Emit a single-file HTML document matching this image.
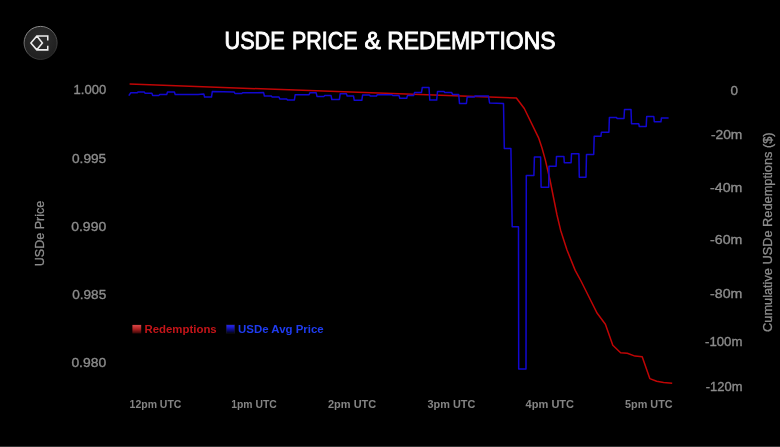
<!DOCTYPE html>
<html>
<head>
<meta charset="utf-8">
<style>
html,body{margin:0;padding:0;background:#000;}
body{width:780px;height:447px;overflow:hidden;position:relative;}
svg{display:block;position:absolute;left:0;top:0;}
text{font-family:"Liberation Sans",Arial,sans-serif;}
</style>
</head>
<body>
<svg width="780" height="447" viewBox="0 0 780 447">
<defs>
<linearGradient id="lr" x1="0" y1="0" x2="0" y2="1">
<stop offset="0" stop-color="#dc4848"/><stop offset="0.5" stop-color="#aa2020"/><stop offset="1" stop-color="#360606"/>
</linearGradient>
<linearGradient id="lb" x1="0" y1="0" x2="0" y2="1">
<stop offset="0" stop-color="#2828ff"/><stop offset="0.5" stop-color="#1010a0"/><stop offset="1" stop-color="#02021a"/>
</linearGradient>
<linearGradient id="rim" x1="0.2" y1="0" x2="0.8" y2="1">
<stop offset="0" stop-color="#9a9a9a"/><stop offset="0.45" stop-color="#5a5a5a"/><stop offset="1" stop-color="#262626"/>
</linearGradient>
<radialGradient id="disc" cx="0.5" cy="0.4" r="0.6">
<stop offset="0" stop-color="#2e2e2e"/><stop offset="1" stop-color="#1f1f1f"/>
</radialGradient>
</defs>
<rect x="0" y="0" width="780" height="447" fill="#000"/>
<rect x="0" y="446" width="780" height="1" fill="#333"/>

<!-- logo -->
<circle cx="40.6" cy="42.9" r="16.5" fill="url(#disc)" stroke="url(#rim)" stroke-width="1"/>
<path d="M47.75 40.5 V35.95 H36.8 L30.9 42.9 L36.8 49.85 H47.75 V45.8 M36.8 35.95 L42.4 42.9 L36.8 49.85" fill="none" stroke="#ededed" stroke-width="1.55" stroke-linejoin="miter"/>

<!-- title -->
<g font-size="23.8" fill="#fff" stroke="#fff" stroke-width="0.85">
<text x="224.5" y="48.6" textLength="60.2" lengthAdjust="spacingAndGlyphs">USDE</text>
<text x="292.1" y="48.6" textLength="65.4" lengthAdjust="spacingAndGlyphs">PRICE</text>
<text x="364.4" y="48.6" textLength="16.4" lengthAdjust="spacingAndGlyphs">&amp;</text>
<text x="387.2" y="48.6" textLength="168.4" lengthAdjust="spacingAndGlyphs">REDEMPTIONS</text>
</g>

<!-- left axis -->
<g font-size="13.4" fill="#8c8c8c" stroke="#8c8c8c" stroke-width="0.35" text-anchor="end">
<text x="106.2" y="94.4" textLength="32.6" lengthAdjust="spacingAndGlyphs">1.000</text>
<text x="106.2" y="163.1" textLength="34.2" lengthAdjust="spacingAndGlyphs">0.995</text>
<text x="106.2" y="231.3" textLength="35" lengthAdjust="spacingAndGlyphs">0.990</text>
<text x="106.2" y="299.3" textLength="34" lengthAdjust="spacingAndGlyphs">0.985</text>
<text x="106.2" y="367.3" textLength="34.8" lengthAdjust="spacingAndGlyphs">0.980</text>
</g>
<text transform="translate(43.6,233.5) rotate(-90)" font-size="13.6" fill="#8c8c8c" stroke="#8c8c8c" stroke-width="0.3" text-anchor="middle" textLength="65.4" lengthAdjust="spacingAndGlyphs">USDe Price</text>

<!-- right axis -->
<g font-size="13.4" fill="#8c8c8c" stroke="#8c8c8c" stroke-width="0.35" text-anchor="start">
<text x="730.4" y="95.2" textLength="7.5" lengthAdjust="spacingAndGlyphs">0</text>
<text x="710.9" y="139" textLength="31.5" lengthAdjust="spacingAndGlyphs">-20m</text>
<text x="710.1" y="192" textLength="32.3" lengthAdjust="spacingAndGlyphs">-40m</text>
<text x="710.1" y="244.3" textLength="32.3" lengthAdjust="spacingAndGlyphs">-60m</text>
<text x="710.1" y="297.7" textLength="32.3" lengthAdjust="spacingAndGlyphs">-80m</text>
<text x="705" y="346.4" textLength="37.4" lengthAdjust="spacingAndGlyphs">-100m</text>
<text x="705.8" y="391.1" textLength="36.6" lengthAdjust="spacingAndGlyphs">-120m</text>
</g>
<text transform="translate(772,232.2) rotate(-90)" font-size="13.6" fill="#8c8c8c" stroke="#8c8c8c" stroke-width="0.3" text-anchor="middle" textLength="199.5" lengthAdjust="spacingAndGlyphs">Cumulative USDe Redemptions ($)</text>

<!-- x axis -->
<g font-size="10.5" fill="#848484" font-weight="bold">
<text x="129.6" y="407.7" textLength="51.8" lengthAdjust="spacingAndGlyphs">12pm UTC</text>
<text x="231.2" y="407.7" textLength="45.6" lengthAdjust="spacingAndGlyphs">1pm UTC</text>
<text x="328.0" y="407.7" textLength="48.2" lengthAdjust="spacingAndGlyphs">2pm UTC</text>
<text x="427.5" y="407.7" textLength="47.8" lengthAdjust="spacingAndGlyphs">3pm UTC</text>
<text x="525.6" y="407.7" textLength="48.5" lengthAdjust="spacingAndGlyphs">4pm UTC</text>
<text x="625.0" y="407.7" textLength="47.6" lengthAdjust="spacingAndGlyphs">5pm UTC</text>
</g>

<!-- legend -->
<rect x="132.4" y="324.9" width="8.8" height="8.6" fill="url(#lr)"/>
<text x="144.5" y="332.8" font-size="11.2" font-weight="bold" fill="#c41519" textLength="72.2" lengthAdjust="spacingAndGlyphs">Redemptions</text>
<rect x="226.2" y="324.9" width="8.6" height="8.2" fill="url(#lb)" stroke="#222" stroke-width="0.4"/>
<text x="238.1" y="332.9" font-size="11.2" font-weight="bold" fill="#1f3cf0" textLength="85.6" lengthAdjust="spacingAndGlyphs">USDe Avg Price</text>

<!-- red line -->
<polyline fill="none" stroke="#bf0505" stroke-width="1.5" stroke-linejoin="round" points="129.6,84.1 516.4,98 524.3,108.5 538.6,137.8 542,148 545.3,159.9 550,180 554,200 557,215 560.6,230.2 567,250 575.2,270.4 581,281 589,297 597.2,313.3 605.4,324.3 612.8,345.3 620.6,352.7 627.3,353.2 635,356.1 642.2,356.8 649.8,378.6 656.7,381.3 663.6,382.6 672.2,383.2"/>

<!-- blue line -->
<polyline fill="none" stroke="#1208d0" stroke-width="1.5" stroke-linejoin="round" points="128.8,95.6 130.8,92.8 137.2,92.8 138,91.9 144.2,91.9 145,93.2 151.9,93.2 152.7,95.4 159,95.4 159.8,94.4 166.7,94.4 167.5,91.9 174.4,91.9 175.2,94.4 198,94.4 203.8,93.9 204.6,97.1 211.5,97.1 212.3,91.5 234.1,91.9 235,93.5 241.8,93.5 242.6,92.8 257.2,92.8 263.6,92.6 264.4,96 271.3,96 272,96.9 279,96.9 279.8,99 286.7,99 287.5,99.9 294.4,99.9 295.2,94.7 309.1,94.7 309.9,92.8 316.2,92.8 317,96.4 324,96.4 324.8,95.4 331,95.4 331.8,99.5 339.4,99.5 340.2,93.7 346.4,93.7 347.2,96 353.5,96 354.3,100.3 361.8,100.3 362.6,95.1 369.5,95.1 370.3,96 376.5,96 377.3,94.7 392,94.7 392.8,95.4 399,95.4 399.8,98.2 406.7,98.2 407.5,95.4 413.7,95.4 414.5,92.6 421.5,92.6 422.3,87.4 429,87.4 429.8,100.1 436.7,100.1 437.5,91.5 444,91.5 444.8,92.6 451.7,92.6 452.5,94.4 458.7,94.4 459.5,103.5 466.4,103.5 467.2,96.9 474.2,96.9 475,96.1 488.5,96.1 489.6,103 503.5,103.4 504.3,148.6 510.9,148.6 512.2,226.8 518.5,226.8 518.7,369 526,369 526.3,175.5 533.9,175.5 534.4,157.1 540.6,157.1 541.1,187.3 548.7,187.3 549,166.2 556.1,166.2 556.5,156.4 563.9,156.4 564.3,162.8 571.1,162.8 571.5,153.7 578.9,153.7 579.3,177.3 586,177.3 586.5,154.6 593.7,154.6 594.2,136.3 600.9,136.3 601.4,132.3 608.9,132.3 609.4,117.5 616.6,117.5 617,118.4 624,118.4 624.5,109.4 631,109.4 631.5,123.8 638.8,123.8 639.3,126.5 646.2,126.5 646.7,116.5 653.8,116.5 654.3,121.8 660.9,121.8 661.4,118.1 668.6,118.1"/>
</svg>
</body>
</html>
